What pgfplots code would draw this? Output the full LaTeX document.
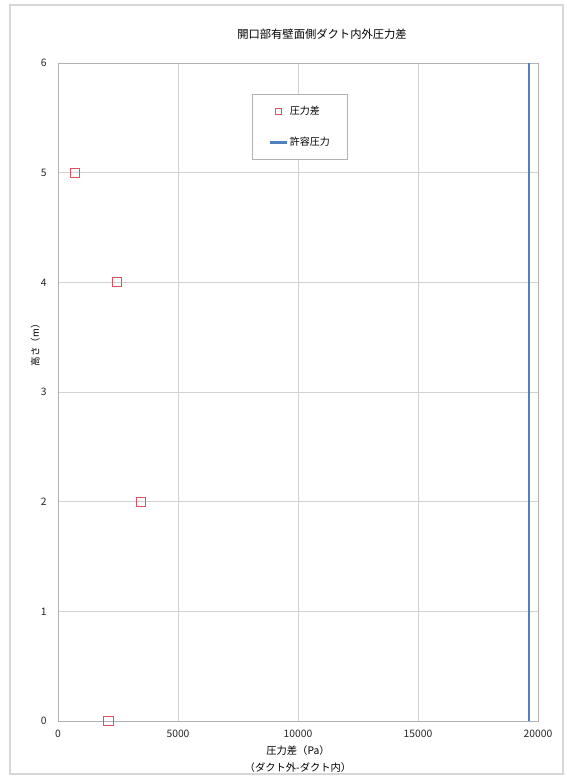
\documentclass[border=0pt]{standalone}
\usepackage{fontspec}
\setmainfont{Noto Sans CJK JP}
\usepackage{pgfplots}
\pgfplotsset{compat=1.18}
\definecolor{ptred}{RGB}{225,80,95}
\definecolor{lineblue}{RGB}{79,129,189}
\definecolor{gridgray}{RGB}{210,210,210}
\definecolor{bordergray}{RGB}{215,215,215}
\begin{document}
\begin{tikzpicture}[x=1pt,y=1pt]
\fill[white] (-58,-55) rectangle (508,721);
\draw[bordergray, line width=1.5pt] (-48,-53) rectangle (505,716);
\begin{axis}[
  at={(0,0)}, anchor=south west,
  scale only axis, width=480pt, height=658pt,
  xmin=0, xmax=20000, ymin=0, ymax=6,
  xtick={0,5000,10000,15000,20000},
  ytick={0,1,2,3,4,5,6},
  scaled x ticks=false,
  /pgf/number format/1000 sep={},
  /pgf/number format/assume math mode=true,
  tick label style={font=\fontsize{10.3}{12}\selectfont, text=black!85},
  xticklabel style={yshift=-5pt},
  yticklabel style={xshift=-8pt},
  major tick length=0pt,
  grid=major,
  grid style={gridgray, line width=0.7pt},
  axis line style={gray!60, line width=0.9pt},
  xlabel={\shortstack{圧力差（Pa）\\[4pt]（ダクト外-ダクト内）}},
  xlabel style={font=\fontsize{10.3}{12}\selectfont, yshift=-2pt},
  ylabel={高さ（m）},
  ylabel style={font=\fontsize{9.5}{11}\selectfont, at={(ticklabel cs:0.575)}, yshift=-6pt},
  title={開口部有壁面側ダクト内外圧力差},
  title style={font=\fontsize{11.3}{13}\selectfont, at={(axis description cs:0.55,1)}, yshift=14pt},
  legend style={at={(axis cs:8080,5.717)}, anchor=north west,
    draw=gray!60, line width=0.8pt, fill=white, font=\fontsize{10}{11}\selectfont,
    inner xsep=16pt, inner ysep=10pt, row sep=17pt},
  legend cell align=left,
]
\addplot[only marks, mark=square, mark size=4.6pt, color=ptred, mark options={line width=0.9pt},
  legend image post style={mark size=3pt, ptred}] coordinates {
  (700,5) (2450,4) (3450,2) (2100,0)
};
\addlegendentry{圧力差}
\addplot[lineblue, line width=2.5pt] coordinates {(19620,0) (19620,6)};
\addlegendentry{許容圧力}
\end{axis}
\end{tikzpicture}
\end{document}
